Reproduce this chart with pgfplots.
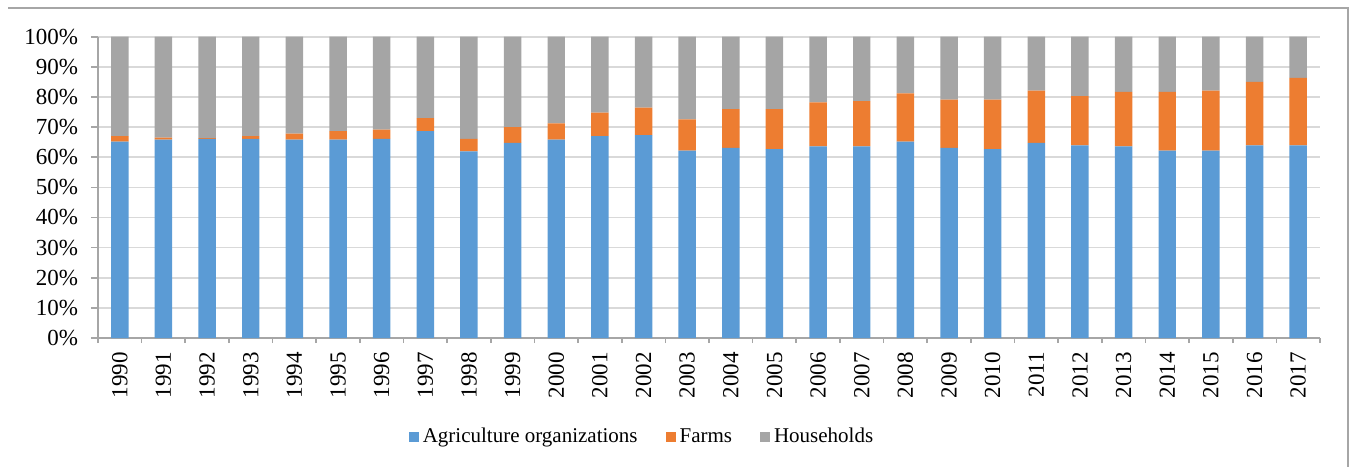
\documentclass[border=0pt]{standalone}
\usepackage{pgfplots}
\pgfplotsset{compat=1.18}
\usepackage{pgfplotstable}
\usepackage{fontspec}
\setmainfont{Liberation Serif}
\definecolor{cblue}{HTML}{5B9BD5}
\definecolor{corange}{HTML}{ED7D31}
\definecolor{cgray}{HTML}{A5A5A5}
\definecolor{cgrid}{HTML}{D9D9D9}
\definecolor{caxis}{HTML}{A6A6A6}
\pgfplotstableread{
x year agri farms house
0 1990 65.2 1.8 33.0
1 1991 65.8 0.7 33.5
2 1992 66.1 0.2 33.7
3 1993 66.1 0.9 33.0
4 1994 65.8 2.0 32.2
5 1995 65.8 2.9 31.3
6 1996 66.1 3.1 30.8
7 1997 68.7 4.3 27.0
8 1998 61.9 4.2 33.9
9 1999 64.8 5.2 30.0
10 2000 65.8 5.4 28.8
11 2001 67.0 7.8 25.2
12 2002 67.3 9.2 23.5
13 2003 62.2 10.4 27.4
14 2004 63.1 12.9 24.0
15 2005 62.7 13.3 24.0
16 2006 63.6 14.6 21.8
17 2007 63.6 15.0 21.4
18 2008 65.2 16.0 18.8
19 2009 63.1 16.0 20.9
20 2010 62.7 16.4 20.9
21 2011 64.8 17.3 17.9
22 2012 63.9 16.4 19.7
23 2013 63.6 18.1 18.3
24 2014 62.2 19.5 18.3
25 2015 62.2 19.9 17.9
26 2016 63.9 21.1 15.0
27 2017 63.9 22.4 13.7
}\datatable
\begin{document}
\begin{tikzpicture}
\useasboundingbox (0,0) rectangle (674.5pt,233.5pt);
\draw[caxis, line width=0.8pt] (4pt,229.5pt) -- (674pt,229.5pt) -- (674pt,0pt);
\begin{axis}[
  at={(49pt,64.5pt)}, anchor=south west,
  scale only axis,
  width=611pt, height=150.65pt,
  ybar stacked, bar width=0.4,
  xmin=-0.5, xmax=27.5,
  ymin=0, ymax=100,
  axis lines*=left,
  axis line style={caxis, line width=0.8pt},
  ytick={0,10,...,100},
  yticklabel={\pgfmathprintnumber{\tick}\%},
  xtick={0,...,27},
  xticklabels={1990,1991,1992,1993,1994,1995,1996,1997,1998,1999,2000,2001,2002,2003,2004,2005,2006,2007,2008,2009,2010,2011,2012,2013,2014,2015,2016,2017},
  minor xtick={-0.5,0.5,...,27.5},
  major x tick style={draw=none},
  minor x tick style={caxis, line width=0.8pt},
  major y tick style={caxis, line width=0.8pt},
  minor tick length=2.5pt,
  major tick length=3.5pt,
  tick align=outside,
  ymajorgrids,
  grid style={cgrid, line width=0.8pt},
  /pgf/number format/assume math mode=true,
  ticklabel style={font=\fontsize{11.5}{12}\selectfont, text=black},
  yticklabel style={xshift=-3pt},
  xticklabel style={rotate=90, anchor=east, yshift=0pt},
  legend columns=3,
  legend style={draw=none, at={(0.446,-0.3286)}, anchor=center,
    font=\fontsize{10.5}{12}\selectfont,
    /tikz/every even column/.append style={column sep=12pt}},
  legend image code/.code={\fill[#1] (0pt,-2.5pt) rectangle (5pt,2.5pt);},
]
\addplot[fill=cblue, draw=none] table[x=x, y=agri] {\datatable};
\addplot[fill=corange, draw=none] table[x=x, y=farms] {\datatable};
\addplot[fill=cgray, draw=none] table[x=x, y=house] {\datatable};
\legend{Agriculture organizations, Farms, Households}
\end{axis}
\end{tikzpicture}
\end{document}
